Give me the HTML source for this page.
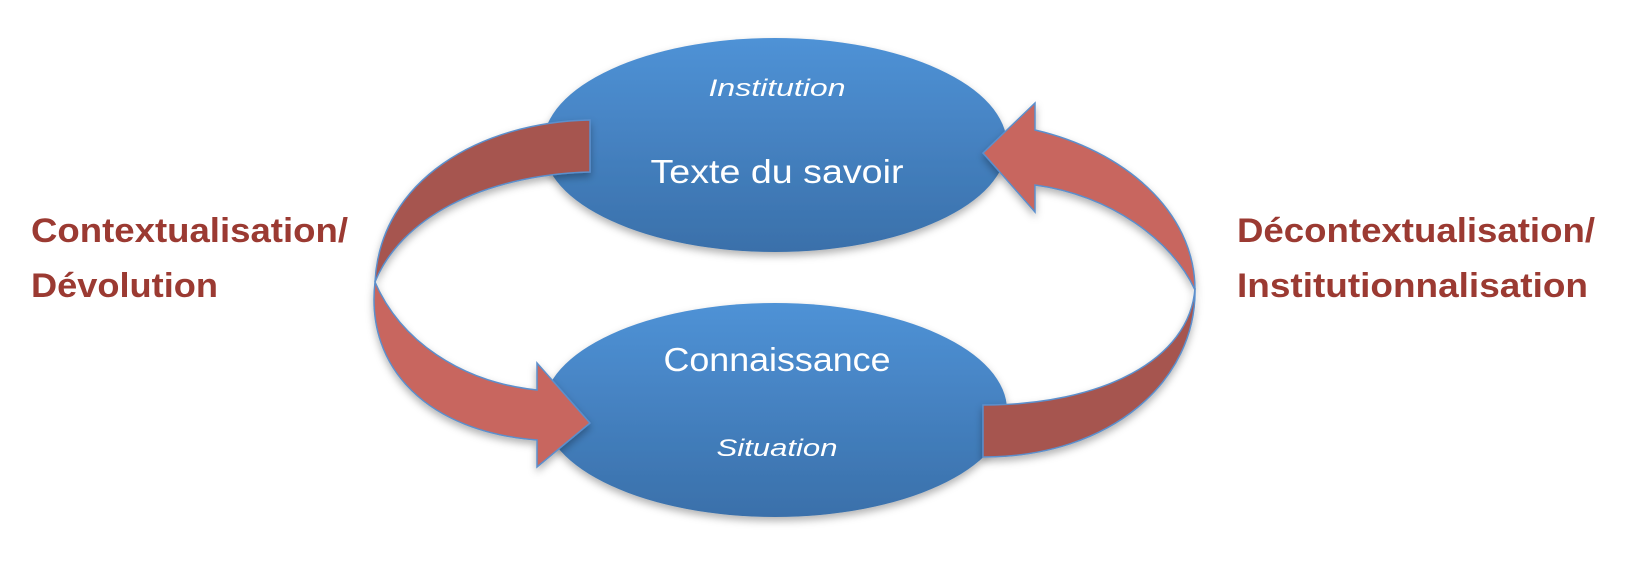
<!DOCTYPE html>
<html><head><meta charset="utf-8"><style>body{margin:0;background:#fff}svg{display:block}</style></head><body>
<svg width="1628" height="566" viewBox="0 0 1628 566" xmlns="http://www.w3.org/2000/svg">
<defs>
<linearGradient id="g" x1="0" y1="0" x2="0" y2="1"><stop offset="0" stop-color="#4f92d6"/><stop offset="1" stop-color="#3a70aa"/></linearGradient>
<filter id="s" x="-10%" y="-10%" width="130%" height="130%"><feDropShadow dx="0" dy="4" stdDeviation="4" flood-color="#000" flood-opacity="0.3"/></filter>
</defs>
<ellipse cx="775" cy="145" rx="232" ry="107" fill="url(#g)" filter="url(#s)"/>
<ellipse cx="775" cy="410" rx="232" ry="107" fill="url(#g)" filter="url(#s)"/>
<g stroke="#5b8fcc" stroke-width="1.5" filter="url(#s)">
<path d="M590,120 C480,122 380,180 375,282 C400,220 480,175 590,172 Z" fill="#a65550"/>
<path d="M375,282 C400,340 460,382 537,390 L537,363 L590,423 L537,467 L537,440 C430,432 365,370 375,282 Z" fill="#c8665f"/>
<path d="M1035,130 L1035,103 L983,153 L1035,212 L1035,185 C1110,195 1172,240 1195,290 C1195,210 1122,150 1035,130 Z" fill="#c8665f"/>
<path d="M1195,288 C1190,360 1102,405 983,405 L983,457 C1112,457 1197,380 1195,288 Z" fill="#a65550"/>
</g>
<g font-family="Liberation Sans, sans-serif" fill="#fff" text-anchor="middle">
<text x="777" y="96" font-size="24" font-style="italic" textLength="137" lengthAdjust="spacingAndGlyphs">Institution</text>
<text x="777" y="183" font-size="33" textLength="253" lengthAdjust="spacingAndGlyphs">Texte du savoir</text>
<text x="777" y="371" font-size="33" textLength="227" lengthAdjust="spacingAndGlyphs">Connaissance</text>
<text x="777" y="456" font-size="24" font-style="italic" textLength="121" lengthAdjust="spacingAndGlyphs">Situation</text>
</g>
<g font-family="Liberation Sans, sans-serif" fill="#9b3a32" font-weight="bold" font-size="34">
<text x="31" y="242" textLength="317" lengthAdjust="spacingAndGlyphs">Contextualisation/</text>
<text x="31" y="297" textLength="187" lengthAdjust="spacingAndGlyphs">Dévolution</text>
<text x="1237" y="242" textLength="358" lengthAdjust="spacingAndGlyphs">Décontextualisation/</text>
<text x="1237" y="297" textLength="351" lengthAdjust="spacingAndGlyphs">Institutionnalisation</text>
</g>
</svg>
</body></html>
